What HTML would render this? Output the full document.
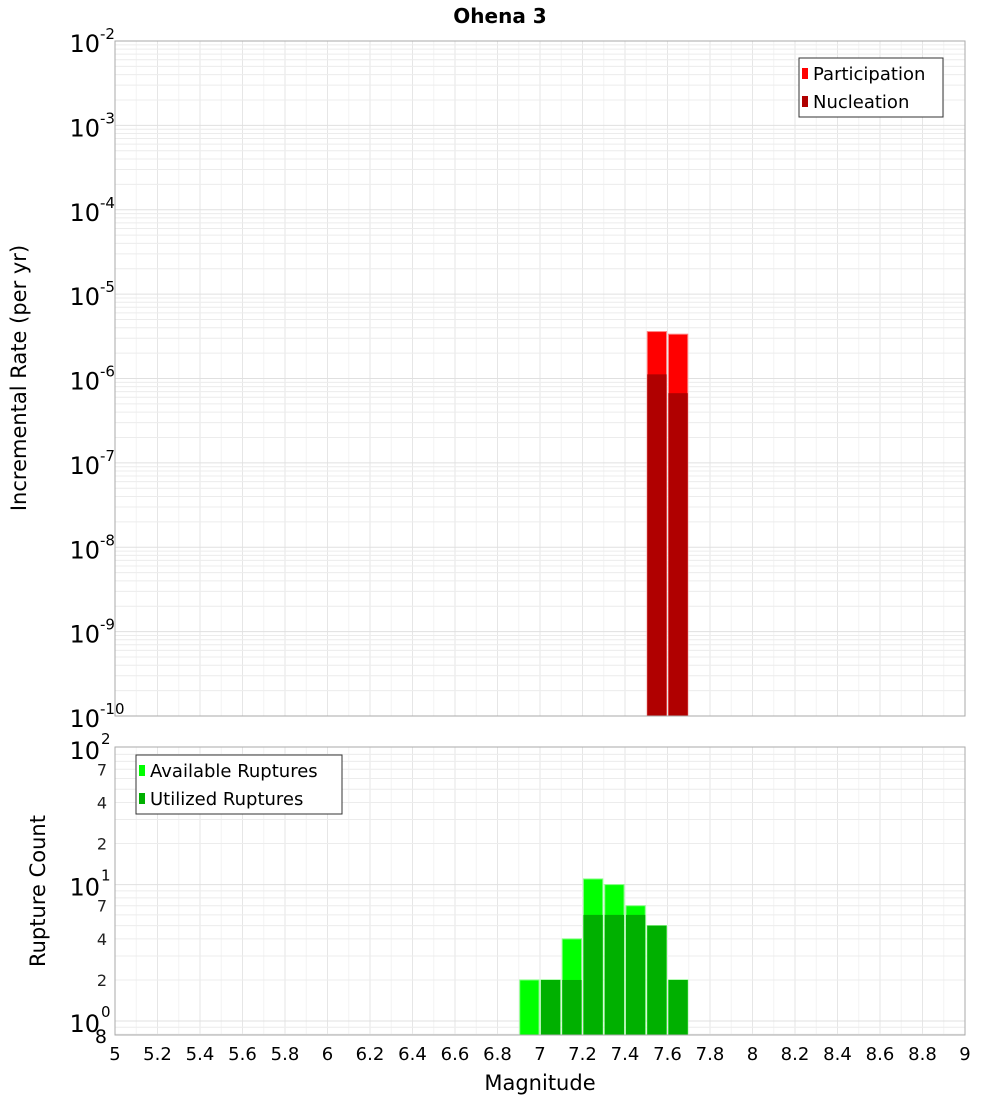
<!DOCTYPE html>
<html><head><meta charset="utf-8">
<style>
body{margin:0;background:#fff;}
svg text{font-family:"DejaVu Sans","Liberation Sans",sans-serif;}
</style></head>
<body>
<svg id="chart" width="1000" height="1100" xmlns="http://www.w3.org/2000/svg">
<text x="500" y="23" text-anchor="middle" font-size="20" font-weight="bold">Ohena 3</text>
<g id="top"></g>
<g id="bot"></g>
<text x="540" y="1090" text-anchor="middle" font-size="21">Magnitude</text>
<text transform="translate(26,378) rotate(-90)" text-anchor="middle" font-size="21">Incremental Rate (per yr)</text>
<text transform="translate(45,891) rotate(-90)" text-anchor="middle" font-size="21">Rupture Count</text>
</svg>
<script>
// data
const rateMags = [7.55, 7.65];
const participation = [3.6e-6, 3.35e-6];
const nucleation = [1.12e-6, 6.7e-7];
const countMags = [6.95, 7.05, 7.15, 7.25, 7.35, 7.45, 7.55, 7.65];
const available = [2, 2, 4, 11, 10, 7, 5, 2];
const utilized = [0, 2, 2, 6, 6, 6, 5, 2];
const xTicks = [5,5.2,5.4,5.6,5.8,6,6.2,6.4,6.6,6.8,7,7.2,7.4,7.6,7.8,8,8.2,8.4,8.6,8.8,9];
const topExps = [-10,-9,-8,-7,-6,-5,-4,-3,-2];
const botMinor = [2,4,7,20,40,70];

const NS="http://www.w3.org/2000/svg";
const svg=document.getElementById('chart');
function mk(tag,attrs,parent){const e=document.createElementNS(NS,tag);for(const k in attrs)e.setAttribute(k,attrs[k]);(parent||svg).appendChild(e);return e;}
const L=115,R=965;
const xs=m=>L+(m-5)/(9-5)*(R-L);
const T1=41,B1=716;
const y1=v=>B1-(Math.log10(v)+10)/8*(B1-T1);
const T2=747,B2=1035,bMin=0.79,bMax=102;
const y2=v=>B2-(Math.log10(v)-Math.log10(bMin))/(Math.log10(bMax)-Math.log10(bMin))*(B2-T2);
const gTop=document.getElementById('top'),gBot=document.getElementById('bot');

// backgrounds & grids
for(const [g,T,B] of [[gTop,T1,B1],[gBot,T2,B2]]){
  const bg=mk('rect',{x:L,y:T,width:R-L,height:B-T,fill:'#fff'},g);
  
  
  for(let i=0;i<=40;i++){const x=xs(5+i*0.1);mk('line',{x1:x,x2:x,y1:T,y2:B,stroke:i%2?'#f3f3f3':'#e6e6e6','stroke-width':1},g);}
}
for(let e=-10;e<-2;e++){for(let k=1;k<10;k++){const y=y1(k*Math.pow(10,e));mk('line',{x1:L,x2:R,y1:y,y2:y,stroke:k==1?'#e0e0e0':'#ececec'},gTop);}}
for(let e=-1;e<2;e++){for(let k=1;k<10;k++){const v=k*Math.pow(10,e);if(v<bMin)continue;const y=y2(v);mk('line',{x1:L,x2:R,y1:y,y2:y,stroke:k==1?'#e0e0e0':'#ececec'},gBot);}}

// top bars
rateMags.forEach((m,i)=>{
  const x0=xs(m-0.05)+1,w=xs(m+0.05)-xs(m-0.05)-2;
  const p=mk('rect',{x:x0,y:y1(participation[i]),width:w,height:B1-y1(participation[i]),fill:'#ff0000',stroke:'#ff8080','stroke-width':1},gTop);
  
  
  const n=mk('rect',{x:x0,y:y1(nucleation[i]),width:w,height:B1-y1(nucleation[i]),fill:'#b00000'},gTop);
  
  
});
// bottom bars
countMags.forEach((m,i)=>{
  const x0=xs(m-0.05)+1,w=xs(m+0.05)-xs(m-0.05)-2;
  if(available[i]>0){
    const a=mk('rect',{x:x0,y:y2(available[i]),width:w,height:B2-y2(available[i]),fill:'#00ff00',stroke:'#80ff80','stroke-width':1},gBot);
    
    
  }
  if(utilized[i]>0){
    const u=mk('rect',{x:x0,y:y2(utilized[i]),width:w,height:B2-y2(utilized[i]),fill:'#00b000'},gBot);
    
    
  }
});
// frames
mk('rect',{x:L,y:T1,width:R-L,height:B1-T1,fill:'none',stroke:'#aaa'},gTop);
mk('rect',{x:L,y:T2,width:R-L,height:B2-T2,fill:'none',stroke:'#aaa'},gBot);

// top y ticks
topExps.forEach(e=>{
  const y=y1(Math.pow(10,e));
  const t=mk('text',{x:100,y:y+11,'text-anchor':'end','font-size':24},gTop);
  t.textContent='10';
  
  
  const s=mk('text',{x:100,y:y-2,'font-size':15},gTop);
  s.textContent=String(e);
});
// bottom y ticks
[1,10,100].forEach((v,i)=>{
  const y=y2(v);
  const t=mk('text',{x:100,y:y+11,'text-anchor':'end','font-size':24},gBot);
  t.textContent='10';
  
  
  const s=mk('text',{x:101,y:y-4,'font-size':15},gBot);
  s.textContent=String(i);
});
botMinor.forEach(v=>{
  const y=y2(v);
  const t=mk('text',{x:107,y:y+6,'text-anchor':'end','font-size':16,fill:'#222'},gBot);
  t.textContent=String(v%10===0?v/10:v);
  
  
});
{const t=mk('text',{x:107,y:1043,'text-anchor':'end','font-size':19},gBot);t.textContent='8';}
// x ticks
xTicks.forEach(v=>{
  const t=mk('text',{x:xs(v),y:1060,'text-anchor':'middle','font-size':18},gBot);
  t.textContent=String(v);
  
  
});
// legends
function legend(g,x,y,w,items){
  const lg=mk('g',{},g);
  
  
  mk('rect',{x:x,y:y,width:w,height:59,fill:'#fff',stroke:'#333'},lg);
  items.forEach(([c,l],i)=>{
    mk('rect',{x:x+3,y:y+10+i*28,width:6,height:11,fill:c},lg);
    const t=mk('text',{x:x+14,y:y+22+i*28,'font-size':18},lg);
    t.textContent=l;
    
    
  });
}
legend(gTop,799,58,144,[['#ff0000','Participation'],['#b00000','Nucleation']]);
legend(gBot,136,755,206,[['#00ff00','Available Ruptures'],['#00b000','Utilized Ruptures']]);
</script>
</body></html>
